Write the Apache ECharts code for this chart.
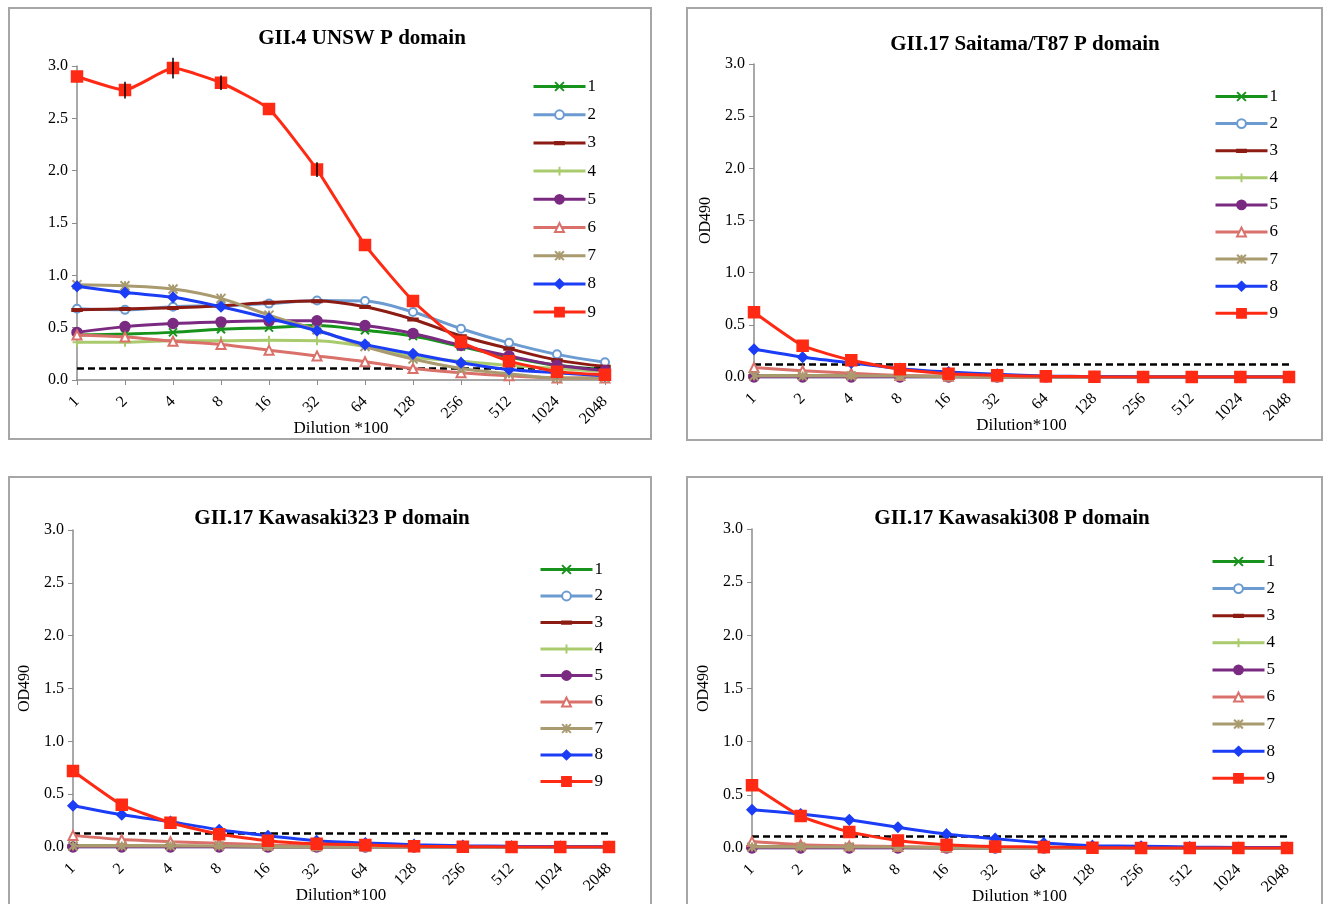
<!DOCTYPE html>
<html>
<head>
<meta charset="utf-8">
<script src="https://cdn.jsdelivr.net/npm/echarts@6/dist/echarts.min.js"></script>
<style>
html,body{margin:0;padding:0;background:#fff;}
#c{width:1333px;height:904px;}
</style>
</head>
<body>
<div id="c"></div>
<script>
// ---------- DATA ----------
const categories = ['1','2','4','8','16','32','64','128','256','512','1024','2048'];
const seriesNames = ['1','2','3','4','5','6','7','8','9'];
const yTicks = [0, 0.5, 1.0, 1.5, 2.0, 2.5, 3.0];

const titles = ['GII.4 UNSW P domain','GII.17 Saitama/T87 P domain','GII.17 Kawasaki323 P domain','GII.17 Kawasaki308 P domain'];
const xNames = ['Dilution *100','Dilution*100','Dilution*100','Dilution *100'];
const yNames = ['','OD490','OD490','OD490'];
const cutoffs = [0.11, 0.12, 0.13, 0.11];

// GII.4 UNSW
const unsw1 = [0.43,0.44,0.455,0.485,0.50,0.52,0.475,0.42,0.32,0.22,0.14,0.10];
const unsw2 = [0.68,0.67,0.70,0.71,0.73,0.76,0.755,0.65,0.49,0.355,0.245,0.17];
const unsw3 = [0.67,0.68,0.69,0.71,0.74,0.755,0.70,0.58,0.42,0.30,0.19,0.13];
const unsw4 = [0.36,0.36,0.375,0.375,0.38,0.375,0.32,0.22,0.18,0.14,0.11,0.08];
const unsw5 = [0.455,0.51,0.54,0.555,0.565,0.565,0.52,0.445,0.33,0.23,0.14,0.09];
const unsw6 = [0.43,0.41,0.37,0.34,0.285,0.23,0.175,0.11,0.07,0.04,0.02,0.02];
const unsw7 = [0.91,0.90,0.87,0.78,0.62,0.48,0.32,0.20,0.11,0.06,0.02,0.02];
const unsw8 = [0.895,0.835,0.79,0.70,0.59,0.47,0.34,0.25,0.165,0.10,0.07,0.04];
const unsw9 = [2.90,2.77,2.98,2.84,2.59,2.01,1.29,0.755,0.365,0.18,0.08,0.05];
const unsw9Err = [0,0.08,0.10,0.07,0,0.07,0,0,0,0,0,0];

// GII.17 Saitama/T87
const sai1 = [0.01,0.01,0.01,0.005,0.005,0,0,0,0,0,0,0];
const sai2 = [0,0,0,0,0,0,0,0,0,0,0,0];
const sai3 = [0.01,0.01,0.01,0.01,0.005,0,0,0,0,0,0,0];
const sai4 = [0.01,0.01,0.01,0.005,0,0,0,0,0,0,0,0];
const sai5 = [0,0,0,0,0,0,0,0,0,0,0,0];
const sai6 = [0.09,0.06,0.035,0.015,0.006,0.003,0,0,0,0,0,0];
const sai7 = [0.01,0.01,0.01,0.01,0.005,0,0,0,0,0,0,0];
const sai8 = [0.265,0.19,0.135,0.08,0.048,0.026,0.01,0.003,0,0,0,0];
const sai9 = [0.62,0.30,0.16,0.075,0.03,0.016,0.006,0.002,0,0,0,0];

// GII.17 Kawasaki323
const k323_1 = [0.01,0.01,0.005,0.005,0,0,0,0,0,0,0,0];
const k323_2 = [0,0,0,0,0,0,0,0,0,0,0,0];
const k323_3 = [0.01,0.01,0.01,0.005,0,0,0,0,0,0,0,0];
const k323_4 = [0.01,0.01,0.01,0.005,0,0,0,0,0,0,0,0];
const k323_5 = [0,0,0,0,0,0,0,0,0,0,0,0];
const k323_6 = [0.11,0.07,0.05,0.035,0.02,0.012,0.008,0.005,0.003,0.002,0.001,0];
const k323_7 = [0.01,0.01,0.01,0.01,0.005,0,0,0,0,0,0,0];
const k323_8 = [0.39,0.305,0.24,0.163,0.107,0.06,0.038,0.022,0.013,0.006,0.003,0.002];
const k323_9 = [0.72,0.40,0.23,0.12,0.06,0.03,0.02,0.006,0.003,0,0,0];

// GII.17 Kawasaki308
const k308_1 = [0.01,0.01,0.005,0.005,0,0,0,0,0,0,0,0];
const k308_2 = [0,0,0,0,0,0,0,0,0,0,0,0];
const k308_3 = [0.01,0.01,0.01,0.005,0,0,0,0,0,0,0,0];
const k308_4 = [0.01,0.01,0.005,0.005,0,0,0,0,0,0,0,0];
const k308_5 = [0,0,0,0,0,0,0,0,0,0,0,0];
const k308_6 = [0.06,0.03,0.02,0.013,0.008,0.005,0.003,0.002,0,0,0,0];
const k308_7 = [0.01,0.01,0.01,0.01,0.005,0,0,0,0,0,0,0];
const k308_8 = [0.36,0.32,0.265,0.195,0.13,0.088,0.047,0.022,0.016,0.01,0.005,0.004];
const k308_9 = [0.59,0.30,0.15,0.07,0.03,0.013,0.01,0.003,0,0,0,0];

const panelData = [
  [unsw1,unsw2,unsw3,unsw4,unsw5,unsw6,unsw7,unsw8,unsw9],
  [sai1,sai2,sai3,sai4,sai5,sai6,sai7,sai8,sai9],
  [k323_1,k323_2,k323_3,k323_4,k323_5,k323_6,k323_7,k323_8,k323_9],
  [k308_1,k308_2,k308_3,k308_4,k308_5,k308_6,k308_7,k308_8,k308_9]
];

// ---------- STYLE ----------
const FONT = '"Liberation Serif", "Times New Roman", serif';
const colors = ['#17931b','#6b9bd1','#8c1c13','#a9cb6e','#7b2a82','#d9716a','#a99b6f','#1b3df5','#ff2a14'];
const symbols = [
  'path://M0,0L10,10M10,0L0,10',
  'emptyCircle',
  'path://M0,0L0,0M10,10L10,10M0,4H10V6.5H0Z',
  'path://M5,0L5,10M0,5L10,5',
  'circle',
  'emptyTriangle',
  'path://M0,0L10,10M10,0L0,10M5,0L5,10',
  'diamond',
  'rect'
];
const symbolSizes = [8, 8, 10, 9, 10, 9, 9, 10, 11];

const panels = [
  {box:[9,8,642,431],   grid:{left:77, top:66, width:528, height:314}, title:[357,23], legend:[527,73,11.2]},
  {box:[687,8,635,432], grid:{left:754,top:64, width:535, height:313}, title:[1020,29], legend:[1209,83,10.1]},
  {box:[9,477,642,440], grid:{left:73, top:530,width:536, height:317}, title:[327,503], legend:[534,556,9.5]},
  {box:[687,477,635,440],grid:{left:752,top:529,width:535,height:319}, title:[1007,503], legend:[1206,548,10.1]}
];

const option = {
  backgroundColor:'#fff',
  animation:false,
  title:[], grid:[], xAxis:[], yAxis:[], legend:[], series:[],
  graphic:[]
};

panels.forEach((p, pi) => {
  option.graphic.push({type:'rect', shape:{x:p.box[0], y:p.box[1], width:p.box[2], height:p.box[3]},
    style:{fill:'none', stroke:'#a6a6a6', lineWidth:2}, z:-1});
  option.title.push({text:titles[pi], left:p.title[0], top:p.title[1], textAlign:'center',
    textStyle:{fontFamily:FONT, fontSize:21, fontWeight:'bold', color:'#000'}});
  option.grid.push(Object.assign({containLabel:false, outerBoundsMode:'none'}, p.grid));
  option.xAxis.push({type:'category', gridIndex:pi, data:categories, boundaryGap:false,
    name:xNames[pi], nameLocation:'middle', nameGap:40, nameMoveOverlap:false,
    nameTextStyle:{fontFamily:FONT, fontSize:17, color:'#000'},
    axisLine:{lineStyle:{color:'#8c8c8c', width:1.5}},
    axisTick:{show:true, length:5, lineStyle:{color:'#8c8c8c'}},
    axisLabel:{rotate:45, fontFamily:FONT, fontSize:16, color:'#000', interval:0, margin:19},
    splitLine:{show:false}});
  option.yAxis.push({type:'value', gridIndex:pi, min:0, max:3, interval:0.5,
    name:yNames[pi], nameLocation:'middle', nameGap:40, nameMoveOverlap:false,
    nameTextStyle:{fontFamily:FONT, fontSize:16, color:'#000'},
    axisLine:{show:true, lineStyle:{color:'#8c8c8c', width:1.5}},
    axisTick:{show:true, length:5, lineStyle:{color:'#8c8c8c'}},
    axisLabel:{fontFamily:FONT, fontSize:16, color:'#000', margin:9,
      formatter:v => yTicks.includes(v) ? v.toFixed(1) : ''},
    splitLine:{show:false}});
  option.legend.push({orient:'vertical', left:p.legend[0], top:p.legend[1],
    itemWidth:52, itemHeight:11, itemGap:p.legend[2],
    data:seriesNames,
    lineStyle:{width:3},
    textStyle:{fontFamily:FONT, fontSize:17, color:'#000', padding:[0,0,0,-3]}});
  panelData[pi].forEach((vals, si) => {
    const s = {
      type:'line', name:seriesNames[si], xAxisIndex:pi, yAxisIndex:pi,
      data:vals, smooth:(pi===0 && si!==8) ? 0.35 : 0.15,
      symbol:symbols[si], symbolSize:symbolSizes[si], showSymbol:true,
      symbolKeepAspect:true,
      lineStyle:{color:colors[si], width:3},
      itemStyle:{color:colors[si], borderColor:colors[si], borderWidth:(si===0||si===3||si===6)?2:1.5},
      z: 2 + si
    };
    if (si === 8) {
      s.markLine = {silent:true, symbol:'none', animation:false,
        data:[{yAxis:cutoffs[pi]}], label:{show:false},
        lineStyle:{type:[7,4], color:'#000', width:2.5}};
    }
    option.series.push(s);
  });
});

// error bars for GII.4 series 9
option.series.push({
  type:'custom', name:'err', xAxisIndex:0, yAxisIndex:0, z:20,
  data: unsw9.map((v,i)=>[i, v, unsw9Err[i]]),
  renderItem:(params, api) => {
    const i = api.value(0), v = api.value(1), e = api.value(2);
    if (!e) return null;
    const a = api.coord([i, v - e]), b = api.coord([i, v + e]);
    return {type:'line', shape:{x1:a[0], y1:a[1], x2:b[0], y2:b[1]},
      style:{stroke:'#000', lineWidth:1.5}};
  }
});

const chart = echarts.init(document.getElementById('c'), null, {renderer:'canvas'});
chart.setOption(option);
</script>
</body>
</html>
